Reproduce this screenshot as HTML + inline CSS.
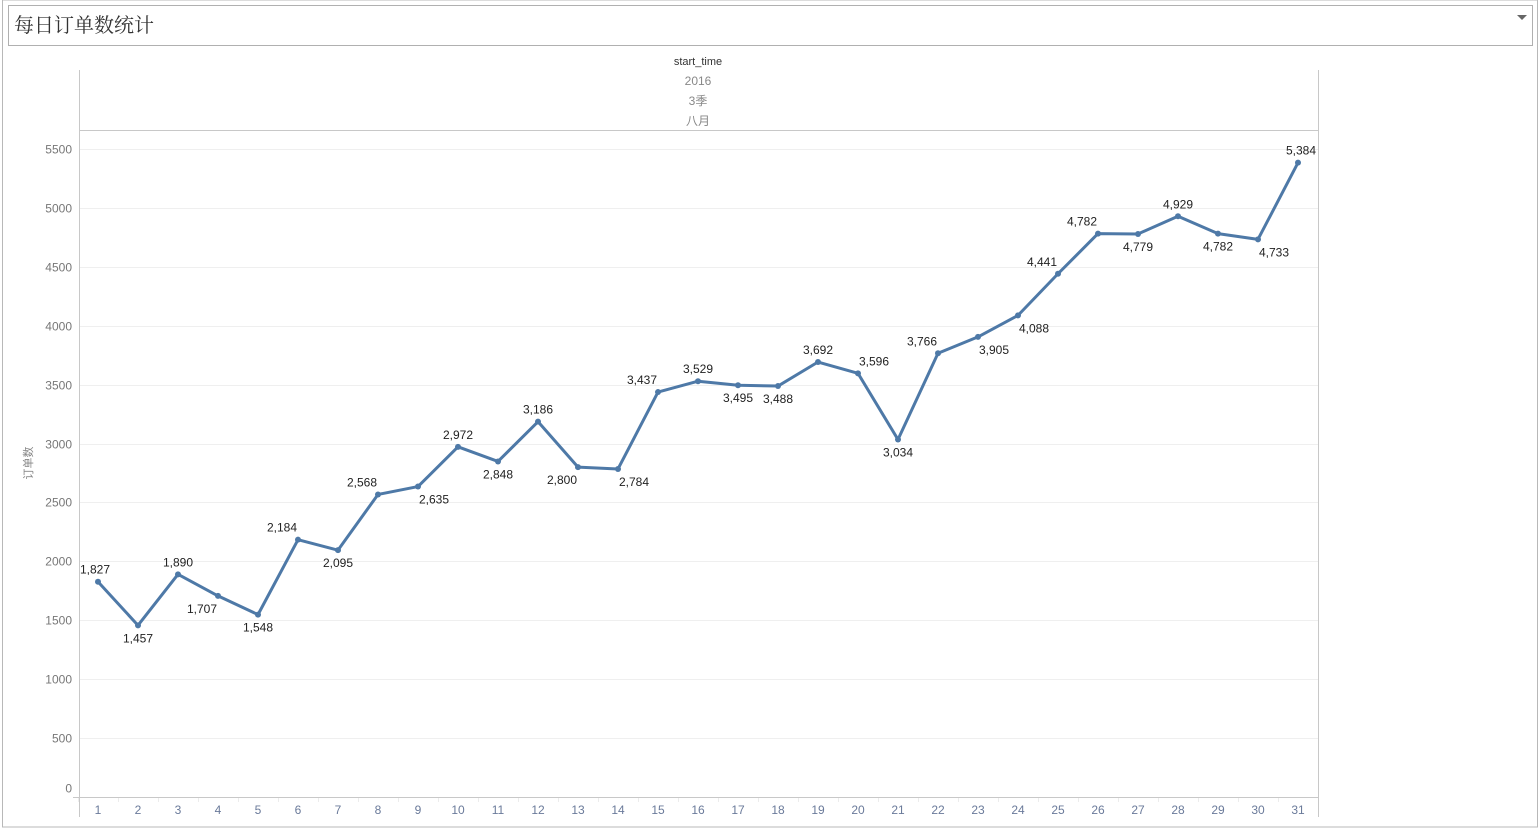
<!DOCTYPE html>
<html><head><meta charset="utf-8"><style>
body{margin:0;width:1540px;height:830px;background:#fff;overflow:hidden;font-family:"Liberation Sans","Noto Sans CJK SC",sans-serif}
</style></head><body>
<svg width="1540" height="830" style="position:absolute;left:0;top:0">
<rect x="2.5" y="0" width="1535" height="827" fill="none" stroke="#b8b8b8"/>
<rect x="8.5" y="5.5" width="1524" height="40" fill="#fff" stroke="#b0b0b0"/>
<text x="14" y="32" font-size="20" fill="#333" font-family="Noto Serif CJK SC, serif">每日订单数统计</text>
<path d="M1517 15 L1527 15 L1522 20 Z" fill="#666"/>
<text x="698" y="65" font-size="11" text-anchor="middle" fill="#333">start_time</text>
<text x="698" y="85" font-size="12" text-anchor="middle" fill="#888">2016</text>
<text x="698" y="105" font-size="12" text-anchor="middle" fill="#888">3季</text>
<text x="698" y="125" font-size="12" text-anchor="middle" fill="#888">八月</text>
<text x="32" y="463" font-size="11" fill="#888" text-anchor="middle" transform="rotate(-90 32 463)">订单数</text>
<g id="grid"></g>
<line x1="79.5" y1="70" x2="79.5" y2="817" stroke="#c8c8c8"/>
<line x1="1318.5" y1="70" x2="1318.5" y2="817" stroke="#c8c8c8"/>
<line x1="79" y1="130.5" x2="1318" y2="130.5" stroke="#c8c8c8"/>
<line x1="73" y1="797.5" x2="1318" y2="797.5" stroke="#c8c8c8"/>
<g id="marks"></g>
</svg>
<script>
const days=[1,2,3,4,5,6,7,8,9,10,11,12,13,14,15,16,17,18,19,20,21,22,23,24,25,26,27,28,29,30,31];
const orders=[1827,1457,1890,1707,1548,2184,2095,2568,2635,2972,2848,3186,2800,2784,3437,3529,3495,3488,3692,3596,3034,3766,3905,4088,4441,4782,4779,4929,4782,4733,5384];
const labelAbove=[1,0,1,0,0,1,0,1,0,1,0,1,0,0,1,1,0,0,1,1,0,1,0,0,1,1,0,1,0,0,1];
const labelDx=[-3,0,0,-16,0,-16,0,-16,16,0,0,0,-16,16,-16,0,0,0,0,16,0,-16,16,16,-16,-16,0,0,0,16,3];
const yTicks=[0,500,1000,1500,2000,2500,3000,3500,4000,4500,5000,5500];
const NS="http://www.w3.org/2000/svg";
const xS=d=>98+(d-1)*40;
const yS=v=>797-v*(648/5500);
const grid=document.getElementById('grid'),marks=document.getElementById('marks');
function mk(t,a,p){const e=document.createElementNS(NS,t);for(const k in a)e.setAttribute(k,a[k]);p.appendChild(e);return e;}
yTicks.forEach(v=>{
  const y=Math.round(yS(v))+0.5;
  if(v>0){const l=mk('line',{x1:79,x2:1318,y1:y,y2:y,stroke:'#efefef'},grid);
  
  }
  const t=mk('text',{x:72,y:v===0?y-5:y+4,'font-size':12,fill:'#777','text-anchor':'end'},grid);
  t.textContent=v;
  
  
});
days.forEach(d=>{
  const x=xS(d);
  const tk=mk('line',{x1:x-20+0.5,x2:x-20+0.5,y1:797,y2:802,stroke:'#ececec'},grid);
  
  
  const t=mk('text',{x:x,y:814,'font-size':12,fill:'#6a7a9a','text-anchor':'middle'},grid);
  t.textContent=d;
  
  
});
const line=mk('polyline',{points:days.map((d,i)=>xS(d)+','+yS(orders[i])).join(' '),fill:'none',stroke:'#4e79a7','stroke-width':3,'stroke-linejoin':'round'},marks);


days.forEach((d,i)=>{
  const x=xS(d),y=yS(orders[i]);
  const c=mk('circle',{cx:x,cy:y,r:3,fill:'#4e79a7'},marks);
  
  
  const t=mk('text',{x:x+labelDx[i],y:labelAbove[i]?y-8:y+17,'font-size':12,fill:'#222','text-anchor':'middle'},marks);
  t.textContent=orders[i].toLocaleString('en-US');
  
  
});
</script>
</body></html>
